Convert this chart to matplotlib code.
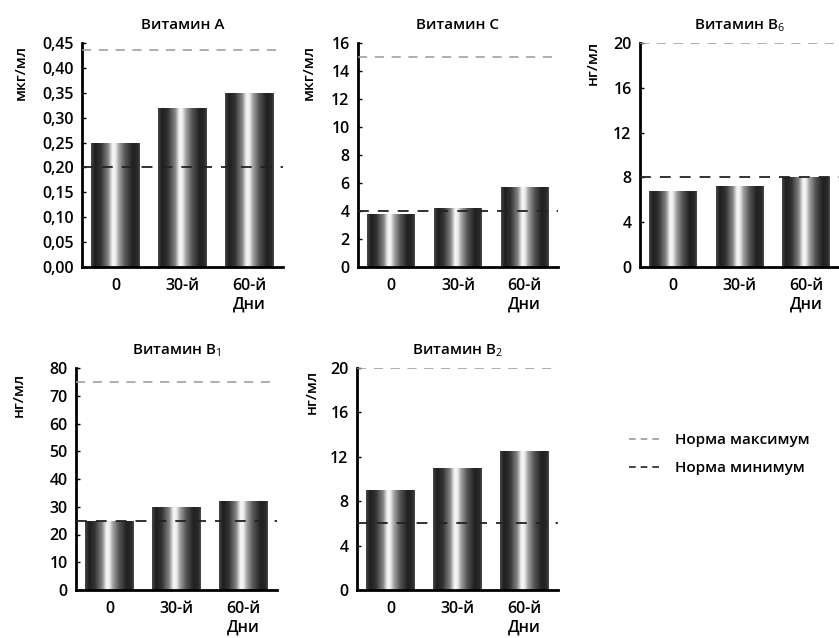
import matplotlib
matplotlib.use('Agg')
import matplotlib.pyplot as plt
import numpy as np
from matplotlib.lines import Line2D

plt.rcParams['font.family'] = ['Open Sans', 'DejaVu Sans']
plt.rcParams['mathtext.fontset'] = 'custom'
plt.rcParams['mathtext.rm'] = 'Open Sans'
plt.rcParams['mathtext.it'] = 'Open Sans'

days = ['0', '30-й', '60-й\nДни']

titles = ['Витамин А', 'Витамин С', 'Витамин B$_6$', 'Витамин B$_1$', 'Витамин B$_2$']
units = ['мкг/мл', 'мкг/мл', 'нг/мл', 'нг/мл', 'нг/мл']

vit_a = [0.25, 0.32, 0.35]
vit_c = [3.8, 4.2, 5.7]
vit_b6 = [6.8, 7.2, 8.0]
vit_b1 = [25, 30, 32]
vit_b2 = [9, 11, 12.5]
values = [vit_a, vit_c, vit_b6, vit_b1, vit_b2]

norm_max = [0.435, 15, 20, 75, 20]
norm_min = [0.20, 4, 8, 25, 6]

y_max = [0.45, 16, 20, 80, 20]
y_step = [0.05, 2, 4, 10, 4]

# axes boxes in pixels: left, right, top, bottom
boxes = [(82, 283, 43, 267), (358, 558, 43, 267), (640, 839, 43, 267),
         (76, 277, 368, 590), (357, 558, 368, 590)]
# y label placement (axes coords)
lab_x = [-0.27, -0.21, -0.20, -0.25, -0.19]
lab_y = [0.87, 0.87, 0.91, 0.88, 0.89]

W, H = 839, 638
fig = plt.figure(figsize=(W / 100, H / 100), dpi=100)

# cylinder-like shading across each bar
px = [0, 0.08, 0.2, 0.35, 0.44, 0.5, 0.57, 0.7, 0.85, 0.95, 1.0]
pv = [0.28, 0.12, 0.2, 0.52, 0.97, 0.93, 0.64, 0.33, 0.13, 0.16, 0.3]
grad = np.interp(np.linspace(0, 1, 200), px, pv).reshape(1, -1)

for i in range(5):
    l, r, t, b = boxes[i]
    ax = fig.add_axes([l / W, 1 - b / H, (r - l) / W, (b - t) / H])
    bars = ax.bar(range(3), values[i], width=0.72, color='none', edgecolor='none', zorder=2)
    for rect in bars:
        x0, w, h = rect.get_x(), rect.get_width(), rect.get_height()
        im = ax.imshow(grad, cmap='gray', vmin=0, vmax=1, aspect='auto',
                       extent=(x0, x0 + w, 0, h), zorder=2, interpolation='bilinear')
        im.set_clip_path(rect)
    ax.axhline(norm_max[i], color='#999999', ls=(0, (6, 5)), lw=1.1, zorder=3)
    ax.axhline(norm_min[i], color='#222222', ls=(0, (6, 5)), lw=1.3, zorder=3)
    ax.set_xlim(-0.5, 2.5)
    ax.set_ylim(0, y_max[i])
    ticks = np.arange(0, y_max[i] + y_step[i] / 2, y_step[i])
    ax.set_yticks(ticks)
    if i == 0:
        ax.set_yticklabels([f'{v:.2f}'.replace('.', ',') for v in ticks])
    else:
        ax.set_yticklabels([f'{v:g}' for v in ticks])
    ax.set_xticks(range(3))
    ax.set_xticklabels(days)
    ax.tick_params(axis='y', direction='in', length=3, width=1, labelsize=11.5, pad=6)
    ax.tick_params(axis='x', length=0, labelsize=11.5, pad=8)
    for lab in ax.get_xticklabels() + ax.get_yticklabels():
        lab.set_fontweight('semibold')
    for s in ['top', 'right']:
        ax.spines[s].set_visible(False)
    ax.spines['left'].set_linewidth(2)
    ax.spines['bottom'].set_linewidth(2)
    ax.set_title(titles[i], fontsize=11, fontweight='semibold', pad=10)
    ax.set_ylabel(units[i], fontsize=11, fontweight='semibold')
    ax.yaxis.set_label_coords(lab_x[i], lab_y[i])

handles = [Line2D([], [], color='#999999', ls=(0, (4, 3)), lw=1.2),
           Line2D([], [], color='#222222', ls=(0, (4, 3)), lw=1.2)]
fig.legend(handles, ['Норма максимум', 'Норма минимум'], loc='center left',
           bbox_to_anchor=(615 / W, 1 - 454 / H), frameon=False, handlelength=2.2,
           labelspacing=0.9, prop={'size': 11, 'weight': 'semibold'})

fig.savefig('out.png', dpi=100)
